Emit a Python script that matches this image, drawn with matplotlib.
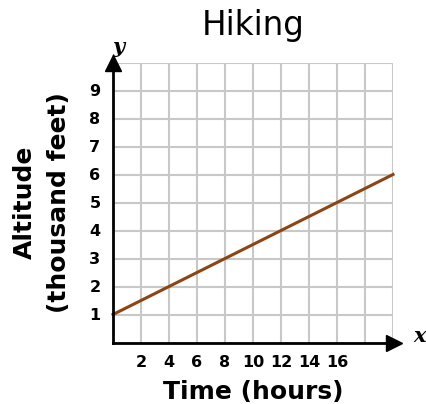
import matplotlib
matplotlib.use("Agg")
import matplotlib.pyplot as plt

# Hiking: altitude vs time
time_hours = [0, 20]
altitude = [1, 6]

x_ticks = [2, 4, 6, 8, 10, 12, 14, 16]
y_ticks = [1, 2, 3, 4, 5, 6, 7, 8, 9]

fig = plt.figure(figsize=(4.27, 4.04), dpi=100)
ax = fig.add_axes([113 / 427, (404 - 342.5) / 404, 280 / 427, 280 / 404])

ax.set_xlim(0, 20)
ax.set_ylim(0, 10)

# grid
ax.set_xticks(range(0, 21, 2))
ax.set_yticks(range(0, 11))
ax.grid(True, color="#c8c8c8", linewidth=1.5)
ax.set_axisbelow(True)
ax.tick_params(length=0, pad=9)
ax.set_xticklabels([str(t) if t in x_ticks else "" for t in range(0, 21, 2)],
                   fontweight="bold", fontsize=11.5)
ax.set_yticklabels([str(t) if t in y_ticks else "" for t in range(0, 11)],
                   fontweight="bold", fontsize=11.5)

for s in ["top", "right"]:
    ax.spines[s].set_visible(False)
for s in ["left", "bottom"]:
    ax.spines[s].set_linewidth(2)
    ax.spines[s].set_color("black")

# axis arrows
ax.plot(0, 1, marker="^", markersize=11, color="black",
        transform=ax.transAxes, clip_on=False)
ax.plot(1.005, 0, marker=">", markersize=11, color="black",
        transform=ax.transAxes, clip_on=False)
ax.text(0.02, 1.055, "y", transform=ax.transAxes, fontsize=15,
        family="DejaVu Serif", style="italic", fontweight="bold",
        ha="center", va="center")
ax.text(1.096, 0.025, "x", transform=ax.transAxes, fontsize=15,
        family="DejaVu Serif", style="italic", fontweight="bold",
        ha="center", va="center")

ax.plot(time_hours, altitude, color="#8B4513", linewidth=2.2, clip_on=False)

ax.set_title("Hiking", fontsize=23.5, pad=20)
ax.set_xlabel("Time (hours)", fontsize=18, fontweight="bold", labelpad=7)
ax.set_ylabel("Altitude\n(thousand feet)", fontsize=18, fontweight="bold",
              labelpad=13, linespacing=1.55)

fig.savefig("out.png", dpi=100)
